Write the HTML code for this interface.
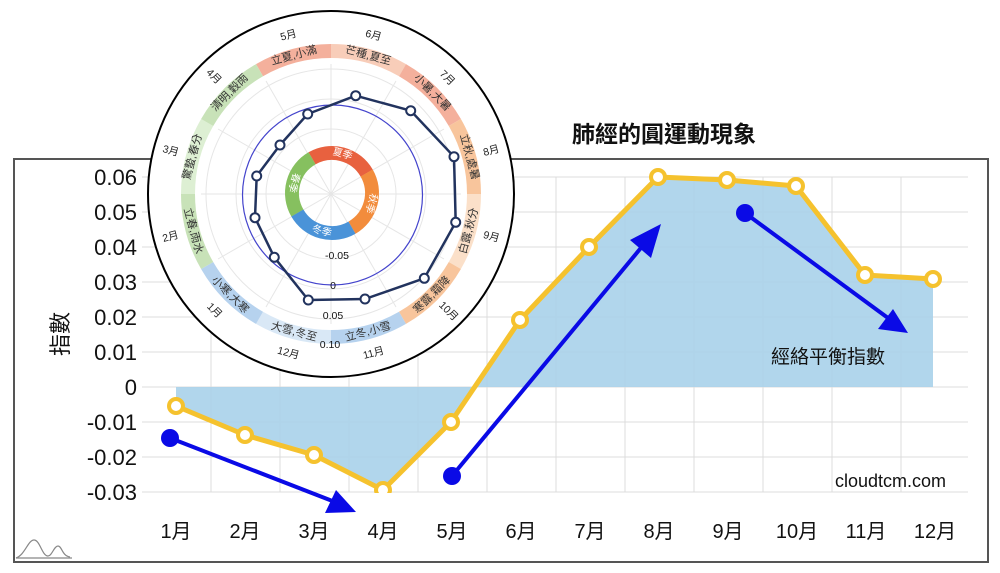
<!DOCTYPE html>
<html><head><meta charset="utf-8"><style>
html,body{margin:0;padding:0;background:#fff;}
svg{display:block;font-family:"Liberation Sans","Noto Sans CJK TC",sans-serif;}
</style></head><body>
<svg width="1000" height="573" viewBox="0 0 1000 573" xmlns="http://www.w3.org/2000/svg">
<rect x="0" y="0" width="1000" height="573" fill="#fff"/>
<rect x="14" y="159" width="974" height="403" fill="none" stroke="#555" stroke-width="2"/>
<g stroke="#dcdcdc" stroke-width="1">
<line x1="142" y1="177" x2="968" y2="177"/><line x1="142" y1="212" x2="968" y2="212"/>
<line x1="142" y1="247" x2="968" y2="247"/><line x1="142" y1="282" x2="968" y2="282"/>
<line x1="142" y1="317" x2="968" y2="317"/><line x1="142" y1="352" x2="968" y2="352"/>
<line x1="142" y1="387" x2="968" y2="387"/><line x1="142" y1="422" x2="968" y2="422"/>
<line x1="142" y1="457" x2="968" y2="457"/><line x1="142" y1="492" x2="968" y2="492"/>
<line x1="211" y1="177" x2="211" y2="492"/><line x1="280" y1="177" x2="280" y2="492"/>
<line x1="349" y1="177" x2="349" y2="492"/><line x1="418" y1="177" x2="418" y2="492"/>
<line x1="487" y1="177" x2="487" y2="492"/><line x1="556" y1="177" x2="556" y2="492"/>
<line x1="625" y1="177" x2="625" y2="492"/><line x1="694" y1="177" x2="694" y2="492"/>
<line x1="763" y1="177" x2="763" y2="492"/><line x1="832" y1="177" x2="832" y2="492"/>
<line x1="901" y1="177" x2="901" y2="492"/>
</g>
<polygon points="176,387 176,406 245,435 314,455 383,490 451,422 520,320 589,247 658,177 727,177 796,186 865,275 933,279 933,387" fill="#a9d1ea" opacity="0.9"/>
<g font-size="22" fill="#111" text-anchor="end">
<text x="137" y="185">0.06</text><text x="137" y="220">0.05</text><text x="137" y="255">0.04</text>
<text x="137" y="290">0.03</text><text x="137" y="325">0.02</text><text x="137" y="360">0.01</text>
<text x="137" y="395">0</text><text x="137" y="430">-0.01</text><text x="137" y="465">-0.02</text>
<text x="137" y="500">-0.03</text>
</g>
<text transform="translate(68,334) rotate(-90)" font-size="22" text-anchor="middle" fill="#111">指數</text>
<g font-size="20" fill="#111" text-anchor="middle">
<text x="176" y="538">1月</text><text x="245" y="538">2月</text><text x="314" y="538">3月</text>
<text x="383" y="538">4月</text><text x="452" y="538">5月</text><text x="521" y="538">6月</text>
<text x="590" y="538">7月</text><text x="659" y="538">8月</text><text x="728" y="538">9月</text>
<text x="797" y="538">10月</text><text x="866" y="538">11月</text><text x="935" y="538">12月</text>
</g>
<polyline points="176,406 245,435 314,455 383,490 451,422 520,320 589,247 658,177 727,180 796,186 865,275 933,279" fill="none" stroke="#f5c22e" stroke-width="5" stroke-linejoin="round"/>
<g fill="#fff" stroke="#f5c22e" stroke-width="4">
<circle cx="176" cy="406" r="7"/><circle cx="245" cy="435" r="7"/><circle cx="314" cy="455" r="7"/>
<circle cx="383" cy="490" r="7"/><circle cx="451" cy="422" r="7"/><circle cx="520" cy="320" r="7"/>
<circle cx="589" cy="247" r="7"/><circle cx="658" cy="177" r="7"/><circle cx="727" cy="180" r="7"/>
<circle cx="796" cy="186" r="7"/><circle cx="865" cy="275" r="7"/><circle cx="933" cy="279" r="7"/>
</g>
<rect x="142" y="493" width="830" height="20" fill="#fff"/>
<g stroke="#0a0ae6" stroke-width="4" fill="#0a0ae6">
<line x1="170" y1="438" x2="335" y2="502"/>
<circle cx="170" cy="438" r="9" stroke="none"/>
<polygon points="356,512 325,513 336,490" stroke="none"/>
<line x1="452" y1="476" x2="645" y2="243"/>
<circle cx="452" cy="476" r="9" stroke="none"/>
<polygon points="661,224 651,258 630,240" stroke="none"/>
<line x1="745" y1="213" x2="888" y2="318"/>
<circle cx="745" cy="213" r="9" stroke="none"/>
<polygon points="908,333 878,329 893,309" stroke="none"/>
</g>
<text x="771" y="363" font-size="19" fill="#111">經絡平衡指數</text>
<text x="946" y="487" font-size="18" fill="#111" text-anchor="end">cloudtcm.com</text>
<text x="664" y="142" font-size="23" font-weight="bold" fill="#111" text-anchor="middle">肺經的圓運動現象</text>
<g fill="none" stroke="#888" stroke-width="1.2">
<path d="M16,558 C25,555 28,540 34,540 C40,540 42,556 48,556 C52,556 54,546 58,546 C62,546 62,556 70,557"/>
<line x1="16" y1="558" x2="72" y2="558"/>
</g>
<circle cx="331" cy="194" r="183" fill="#fff" stroke="#000" stroke-width="2"/>
<g fill="none" stroke="#e6e6e6" stroke-width="1">
<circle cx="331" cy="194" r="65"/><circle cx="331" cy="194" r="95"/><circle cx="331" cy="194" r="125"/>
<line x1="331" y1="64" x2="331" y2="324"/><line x1="201" y1="194" x2="461" y2="194"/>
<line x1="266" y1="81" x2="396" y2="307"/><line x1="396" y1="81" x2="266" y2="307"/>
<line x1="218" y1="129" x2="444" y2="259"/><line x1="218" y1="259" x2="444" y2="129"/>
</g>
<g fill="none" stroke-width="14">
<circle cx="331" cy="194" r="143" stroke="#f4b09c" stroke-dasharray="74.9 1000" transform="rotate(-120 331 194)"/>
<circle cx="331" cy="194" r="143" stroke="#f8cdb9" stroke-dasharray="74.9 1000" transform="rotate(-90 331 194)"/>
<circle cx="331" cy="194" r="143" stroke="#f4b09c" stroke-dasharray="74.9 1000" transform="rotate(-60 331 194)"/>
<circle cx="331" cy="194" r="143" stroke="#f8c59c" stroke-dasharray="74.9 1000" transform="rotate(-30 331 194)"/>
<circle cx="331" cy="194" r="143" stroke="#fbe0c9" stroke-dasharray="74.9 1000" transform="rotate(0 331 194)"/>
<circle cx="331" cy="194" r="143" stroke="#f8c59c" stroke-dasharray="74.9 1000" transform="rotate(30 331 194)"/>
<circle cx="331" cy="194" r="143" stroke="#b6d2ee" stroke-dasharray="74.9 1000" transform="rotate(60 331 194)"/>
<circle cx="331" cy="194" r="143" stroke="#d9e8f6" stroke-dasharray="74.9 1000" transform="rotate(90 331 194)"/>
<circle cx="331" cy="194" r="143" stroke="#b6d2ee" stroke-dasharray="74.9 1000" transform="rotate(120 331 194)"/>
<circle cx="331" cy="194" r="143" stroke="#c8e2b8" stroke-dasharray="74.9 1000" transform="rotate(150 331 194)"/>
<circle cx="331" cy="194" r="143" stroke="#ddefd3" stroke-dasharray="74.9 1000" transform="rotate(180 331 194)"/>
<circle cx="331" cy="194" r="143" stroke="#c8e2b8" stroke-dasharray="74.9 1000" transform="rotate(210 331 194)"/>
</g>
<g font-size="11" fill="#333" text-anchor="middle" dominant-baseline="central">
<text x="331" y="51" transform="rotate(-15 331 194)">立夏,小滿</text>
<text x="331" y="51" transform="rotate(15 331 194)">芒種,夏至</text>
<text x="331" y="51" transform="rotate(45 331 194)">小暑,大暑</text>
<text x="331" y="51" transform="rotate(75 331 194)">立秋,處暑</text>
<text x="331" y="51" transform="rotate(-75 331 194)">驚蟄,春分</text>
<text x="331" y="51" transform="rotate(-45 331 194)">清明,穀雨</text>
<text x="331" y="337" transform="rotate(-75 331 194)">白露,秋分</text>
<text x="331" y="337" transform="rotate(-45 331 194)">寒露,霜降</text>
<text x="331" y="337" transform="rotate(-15 331 194)">立冬,小雪</text>
<text x="331" y="337" transform="rotate(15 331 194)">大雪,冬至</text>
<text x="331" y="337" transform="rotate(45 331 194)">小寒,大寒</text>
<text x="331" y="337" transform="rotate(75 331 194)">立春,雨水</text>
</g>
<g font-size="10.5" fill="#222" text-anchor="middle" dominant-baseline="central">
<text x="331" y="30" transform="rotate(-15 331 194)">5月</text>
<text x="331" y="30" transform="rotate(15 331 194)">6月</text>
<text x="331" y="30" transform="rotate(45 331 194)">7月</text>
<text x="497" y="194" transform="rotate(-15 331 194)">8月</text>
<text x="497" y="194" transform="rotate(15 331 194)">9月</text>
<text x="497" y="194" transform="rotate(45 331 194)">10月</text>
<text x="331" y="359" transform="rotate(-15 331 194)">11月</text>
<text x="331" y="359" transform="rotate(15 331 194)">12月</text>
<text x="331" y="359" transform="rotate(45 331 194)">1月</text>
<text x="165" y="194" transform="rotate(-15 331 194)">2月</text>
<text x="165" y="194" transform="rotate(15 331 194)">3月</text>
<text x="165" y="194" transform="rotate(45 331 194)">4月</text>
</g>
<g fill="none" stroke-width="14">
<circle cx="332" cy="193" r="40" stroke="#e8613f" stroke-dasharray="62.83 1000" transform="rotate(-120 332 193)"/>
<circle cx="332" cy="193" r="40" stroke="#f28c3c" stroke-dasharray="62.83 1000" transform="rotate(-30 332 193)"/>
<circle cx="332" cy="193" r="40" stroke="#4a93d8" stroke-dasharray="62.83 1000" transform="rotate(60 332 193)"/>
<circle cx="332" cy="193" r="40" stroke="#86c05f" stroke-dasharray="62.83 1000" transform="rotate(150 332 193)"/>
</g>
<g font-size="10" fill="#fff" text-anchor="middle" dominant-baseline="central">
<text x="332" y="153" transform="rotate(15 332 193)">夏季</text>
<text x="332" y="153" transform="rotate(105 332 193)">秋季</text>
<text x="332" y="233" transform="rotate(15 332 193)">冬季</text>
<text x="332" y="233" transform="rotate(105 332 193)">春季</text>
</g>
<circle cx="332.5" cy="195" r="90" fill="none" stroke="#4444cc" stroke-width="1.2"/>
<g font-size="10.5" fill="#111" text-anchor="middle">
<text x="337" y="259">-0.05</text><text x="333" y="289">0</text>
<text x="333" y="319">0.05</text><text x="330" y="348">0.10</text>
</g>
<polygon points="355.7,95.7 410.7,110.7 454,156.7 455.7,222.3 424.3,278.3 365,299 308.3,300 274.3,257.3 255,217.7 256.7,176 280,145 307.7,114" fill="none" stroke="#22335e" stroke-width="2.5" stroke-linejoin="round"/>
<g fill="#fff" stroke="#22335e" stroke-width="2">
<circle cx="355.7" cy="95.7" r="4.5"/><circle cx="410.7" cy="110.7" r="4.5"/><circle cx="454" cy="156.7" r="4.5"/>
<circle cx="455.7" cy="222.3" r="4.5"/><circle cx="424.3" cy="278.3" r="4.5"/><circle cx="365" cy="299" r="4.5"/>
<circle cx="308.3" cy="300" r="4.5"/><circle cx="274.3" cy="257.3" r="4.5"/><circle cx="255" cy="217.7" r="4.5"/>
<circle cx="256.7" cy="176" r="4.5"/><circle cx="280" cy="145" r="4.5"/><circle cx="307.7" cy="114" r="4.5"/>
</g>
</svg>
</body></html>
